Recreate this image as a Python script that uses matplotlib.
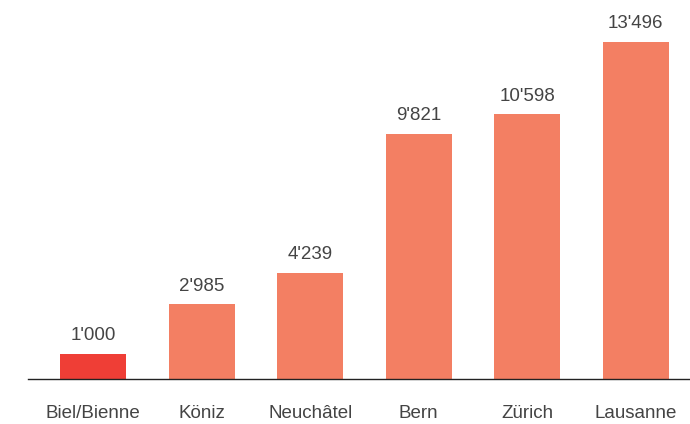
import matplotlib
matplotlib.use("Agg")
import matplotlib.pyplot as plt

cities = ["Biel/Bienne", "Köniz", "Neuchâtel", "Bern", "Zürich", "Lausanne"]
values = [1000, 2985, 4239, 9821, 10598, 13496]
labels = ["1'000", "2'985", "4'239", "9'821", "10'598", "13'496"]
colors = ["#ef3e36", "#f37f63", "#f37f63", "#f37f63", "#f37f63", "#f37f63"]

plt.rcParams['font.family'] = ['Liberation Sans', 'DejaVu Sans']

fig = plt.figure(figsize=(6.9, 4.24), dpi=100)
ax = fig.add_axes([28 / 690, 45 / 424, 1 - 28 / 690, 379 / 424])

x = range(len(cities))
ax.bar(x, values, width=0.61, color=colors)

for i, v in enumerate(values):
    ax.annotate(labels[i], (i, v), xytext=(0, 7), textcoords='offset points',
                ha='center', va='bottom', fontsize=13.5, color='#444444')

ax.set_xlim(-0.6, 5.5)
ax.set_ylim(0, 15178)
ax.set_xticks(list(x))
ax.set_xticklabels(cities, fontsize=13.5, color='#444444')
ax.tick_params(axis='x', length=0, pad=18.5)
ax.set_yticks([])
for s in ['top', 'right', 'left']:
    ax.spines[s].set_visible(False)
ax.spines['bottom'].set_color('#222222')
ax.spines['bottom'].set_linewidth(1)

fig.savefig("out.png", dpi=100)
